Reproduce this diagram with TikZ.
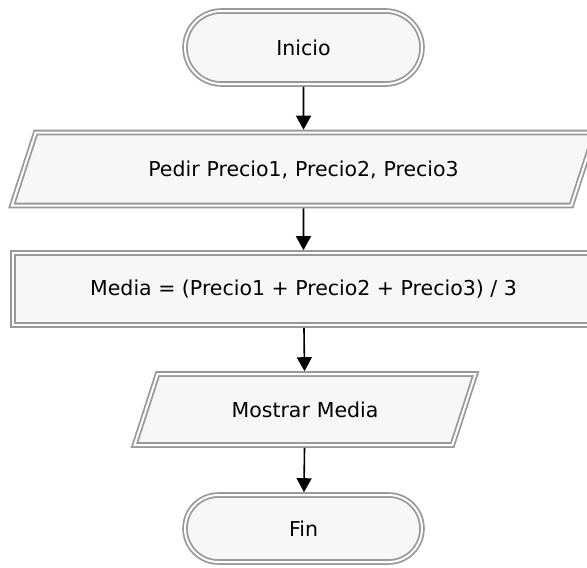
\documentclass[tikz,border=0pt]{standalone}
\usepackage{fontspec}
\setmainfont{DejaVu Sans}
\usetikzlibrary{shapes.geometric,shapes.misc,arrows.meta}
\begin{document}
\begin{tikzpicture}[x=1pt,y=-1pt,
  caja/.style={draw=gray!80,double=white,line width=1.8pt,double distance=2pt,
    fill=gray!6,inner sep=0pt,outer sep=2.8pt,font=\fontsize{20.5}{24}\selectfont},
  terminal/.style={caja,rounded rectangle,minimum width=237pt,minimum height=73pt},
  datos/.style={caja,trapezium,trapezium left angle=72,trapezium right angle=108,
    text height=18pt,text depth=3pt,align=center},
  proceso/.style={caja,rectangle},
  flecha/.style={-{Triangle[length=14pt,width=15pt]},line width=1.6pt}]
\useasboundingbox (0,0) rectangle (587,568);
\node[terminal] (inicio) at (303.5,47.5) {Inicio};
\node[datos,text width=330pt,inner xsep=102.8pt,inner ysep=26pt] (pedir) at (303.5,169) {Pedir Precio1, Precio2, Precio3};
\node[proceso,minimum width=581pt,minimum height=72pt] (media) at (303.5,289) {Media = (Precio1 + Precio2 + Precio3) / 3};
\node[datos,text width=160pt,inner xsep=67.4pt,inner ysep=25pt] (mostrar) at (305,409.5) {Mostrar Media};
\node[terminal,minimum height=67pt] (fin) at (303.5,528.5) {Fin};
\foreach \a/\b in {inicio/pedir,pedir/media,media/mostrar,mostrar/fin} \draw[flecha] (\a) -- (\b);
\end{tikzpicture}
\end{document}
